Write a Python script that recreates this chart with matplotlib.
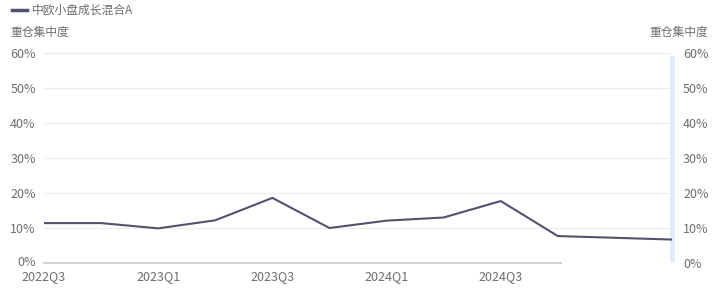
import matplotlib
matplotlib.use("Agg")
import matplotlib.pyplot as plt
from matplotlib.transforms import ScaledTranslation

plt.rcParams['font.family'] = ['Noto Sans CJK SC', 'DejaVu Sans']

quarters = ["2022Q3", "2022Q4", "2023Q1", "2023Q2", "2023Q3", "2023Q4",
            "2024Q1", "2024Q2", "2024Q3", "2024Q4", "2025Q1", "2025Q2"]
concentration = [11.4, 11.4, 9.9, 12.2, 18.6, 10.0, 12.1, 13.0, 17.7, 7.7, 7.2, 6.7]
tick_labels = ["2022Q3", "2023Q1", "2023Q3", "2024Q1", "2024Q3"]
y_ticks = [0, 10, 20, 30, 40, 50, 60]
series_name = "中欧小盘成长混合A"
axis_title = "重仓集中度"

W, H = 718, 296
fig = plt.figure(figsize=(W / 100, H / 100), dpi=100)
ax = fig.add_axes([44 / W, 1 - 263 / H, (672 - 44) / W, (263 - 53) / H])

x = list(range(len(quarters)))
line_color = "#50536e"
text_color = "#6e6e6e"

ax.set_xlim(0, len(quarters) - 1)
ax.set_ylim(0, 60)
for y in y_ticks[1:]:
    ax.axhline(y, color="#ececec", lw=0.8, zorder=0)

ax.plot(x, concentration, color=line_color, lw=1.5, zorder=3, label=series_name)

# axis baseline (partial) and right highlight bar
ax.plot([0, 9.05], [0, 0], color="#c8c8c8", lw=1.2, clip_on=False, zorder=2)
ax.plot([11, 11], [0.3, 59.5], color="#e3eafb", lw=3.5, clip_on=False, zorder=1,
        solid_capstyle="butt")

for s in ax.spines.values():
    s.set_visible(False)

tick_pos = [quarters.index(t) for t in tick_labels]
ax.set_xticks(tick_pos)
ax.set_xticklabels(tick_labels)
ax.set_yticks(y_ticks)
ax.set_yticklabels([f"{v}%" for v in y_ticks])
ax.tick_params(axis="both", length=0, labelsize=9, colors=text_color)
ax.tick_params(axis="x", pad=5)
ax.tick_params(axis="y", pad=6)
# lift the 0% label slightly so it clears the first date label
lbl0 = ax.get_yticklabels()[0]
lbl0.set_transform(lbl0.get_transform() + ScaledTranslation(0, 2 / 100, fig.dpi_scale_trans))

ax2 = ax.twinx()
ax2.set_ylim(0, 60)
ax2.set_yticks(y_ticks)
ax2.set_yticklabels([f"{v}%" for v in y_ticks])
ax2.tick_params(axis="y", length=0, labelsize=9, colors=text_color, pad=8)
for s in ax2.spines.values():
    s.set_visible(False)

fig.text(10 / W, 1 - 32 / H, axis_title, fontsize=8.5, color=text_color, va="center", ha="left")
fig.text(708 / W, 1 - 32 / H, axis_title, fontsize=8.5, color=text_color, va="center", ha="right")

# legend
fig.add_artist(plt.Line2D([12 / W, 27 / W], [1 - 10 / H, 1 - 10 / H], color=line_color, lw=2.5))
fig.text(32 / W, 1 - 10 / H, series_name, fontsize=8.5, color=text_color, va="center", ha="left")

fig.savefig("out.png", dpi=100)
